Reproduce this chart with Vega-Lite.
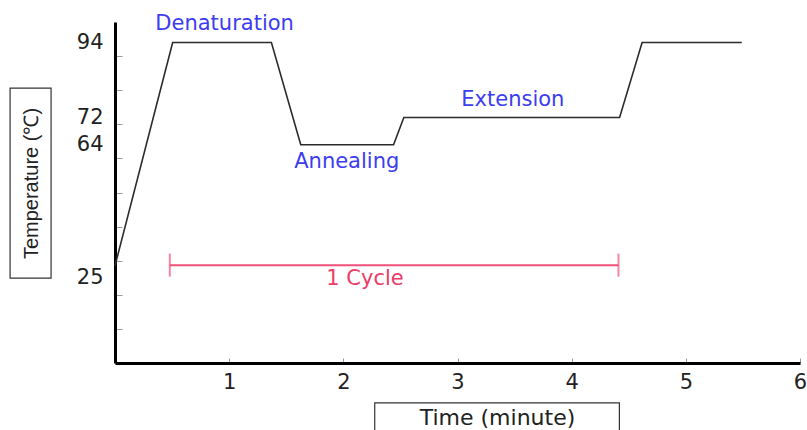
{
  "$schema": "https://vega.github.io/schema/vega-lite/v6.json",
  "width": 685,
  "height": 341,
  "autosize": {"type": "none"},
  "padding": {"left": 115, "top": 22, "right": 7, "bottom": 67},
  "background": "white",
  "config": {"view": {"stroke": null}, "font": "DejaVu Sans"},
  "datasets": {
    "profile": [
      {"time": 0, "temp": 28.5},
      {"time": 0.505, "temp": 94},
      {"time": 1.37, "temp": 94},
      {"time": 1.627, "temp": 64},
      {"time": 2.44, "temp": 64},
      {"time": 2.53, "temp": 72},
      {"time": 4.42, "temp": 72},
      {"time": 4.617, "temp": 94},
      {"time": 5.49, "temp": 94}
    ],
    "cycle": [{"start": 0.48, "end": 4.41, "temp": 28.7}],
    "notes": [
      {"label": "Denaturation", "time": 0.96, "temp": 99.4, "kind": "stage"},
      {"label": "Annealing", "time": 2.03, "temp": 58.9, "kind": "stage"},
      {"label": "Extension", "time": 3.485, "temp": 77.1, "kind": "stage"},
      {"label": "1 Cycle", "time": 2.19, "temp": 24.5, "kind": "cycle"}
    ],
    "frames": [
      {"name": "y title", "t1": -0.919, "t2": -0.56, "v1": 24.9, "v2": 80.6},
      {"name": "x title", "t1": 2.275, "t2": 4.418, "v1": -30, "v2": -11.7}
    ]
  },
  "layer": [
    {
      "data": {"name": "profile"},
      "mark": {"type": "line", "color": "#2b2b2b", "strokeWidth": 1.6},
      "encoding": {
        "x": {
          "field": "time", "type": "quantitative",
          "scale": {"domain": [0, 6], "nice": false},
          "axis": {
            "values": [1, 2, 3, 4, 5, 6],
            "tickCount": 20,
            "format": "d",
            "grid": false,
            "domainColor": "#000000", "domainWidth": 3,
            "tickColor": "#999999", "tickSize": -5, "tickWidth": 1,
            "labelFontSize": 21, "labelColor": "#222222", "labelPadding": 13,
            "labelFont": "DejaVu Sans", "labelFlush": false, "labelBound": false,
            "title": "Time (minute)",
            "titleFont": "DejaVu Sans", "titleFontSize": 22, "titleFontWeight": "normal",
            "titleColor": "#222222",
            "titleX": 382, "titleY": 54, "titleBaseline": "middle", "titleAlign": "center"
          }
        },
        "y": {
          "field": "temp", "type": "quantitative",
          "scale": {"domain": [0, 100], "nice": false},
          "axis": {
            "values": [10, 20, 25, 30, 40, 50, 60, 64, 70, 72, 80, 90, 94],
            "tickCount": 30,
            "labelExpr": "indexof([94, 72, 64, 25], datum.value) >= 0 ? datum.label : ''",
            "labelOverlap": false, "labelFlush": false, "labelBound": false,
            "grid": false,
            "domainColor": "#000000", "domainWidth": 3,
            "tickColor": "#999999", "tickSize": -7, "tickWidth": 1,
            "tickOpacity": {"condition": {"test": "indexof([94, 72, 64, 25], datum.value) >= 0", "value": 0}, "value": 1},
            "labelFontSize": 21, "labelColor": "#222222", "labelPadding": 19,
            "labelFont": "DejaVu Sans",
            "title": "Temperature (℃)",
            "titleFont": "Liberation Sans", "titleFontSize": 20, "titleFontWeight": "normal",
            "titleColor": "#222222",
            "titleX": -84, "titleY": 161, "titleAngle": -90,
            "titleBaseline": "middle", "titleAlign": "center"
          }
        }
      }
    },
    {
      "data": {"name": "frames"},
      "mark": {"type": "rect", "fill": null, "stroke": "#333333", "strokeWidth": 1.2, "clip": false},
      "encoding": {
        "x": {"field": "t1", "type": "quantitative", "scale": {"domain": [0, 6], "nice": false}},
        "x2": {"field": "t2"},
        "y": {"field": "v1", "type": "quantitative", "scale": {"domain": [0, 100], "nice": false}},
        "y2": {"field": "v2"}
      }
    },
    {
      "data": {"name": "cycle"},
      "mark": {"type": "rule", "color": "#f0507a", "strokeWidth": 2},
      "encoding": {
        "x": {"field": "start", "type": "quantitative", "scale": {"domain": [0, 6], "nice": false}},
        "x2": {"field": "end"},
        "y": {"field": "temp", "type": "quantitative", "scale": {"domain": [0, 100], "nice": false}}
      }
    },
    {
      "data": {"name": "cycle"},
      "transform": [{"fold": ["start", "end"], "as": ["end_name", "time"]}],
      "mark": {"type": "tick", "orient": "vertical", "color": "#f0507a", "thickness": 2, "size": 23},
      "encoding": {
        "x": {"field": "time", "type": "quantitative", "scale": {"domain": [0, 6], "nice": false}},
        "y": {"field": "temp", "type": "quantitative", "scale": {"domain": [0, 100], "nice": false}}
      }
    },
    {
      "data": {"name": "notes"},
      "mark": {"type": "text", "fontSize": 21, "font": "DejaVu Sans", "align": "center", "baseline": "middle", "clip": false},
      "encoding": {
        "x": {"field": "time", "type": "quantitative", "scale": {"domain": [0, 6], "nice": false}},
        "y": {"field": "temp", "type": "quantitative", "scale": {"domain": [0, 100], "nice": false}},
        "text": {"field": "label"},
        "color": {
          "field": "kind", "type": "nominal",
          "scale": {"domain": ["stage", "cycle"], "range": ["#3c3cf0", "#ec3c68"]},
          "legend": null
        }
      }
    }
  ]
}
